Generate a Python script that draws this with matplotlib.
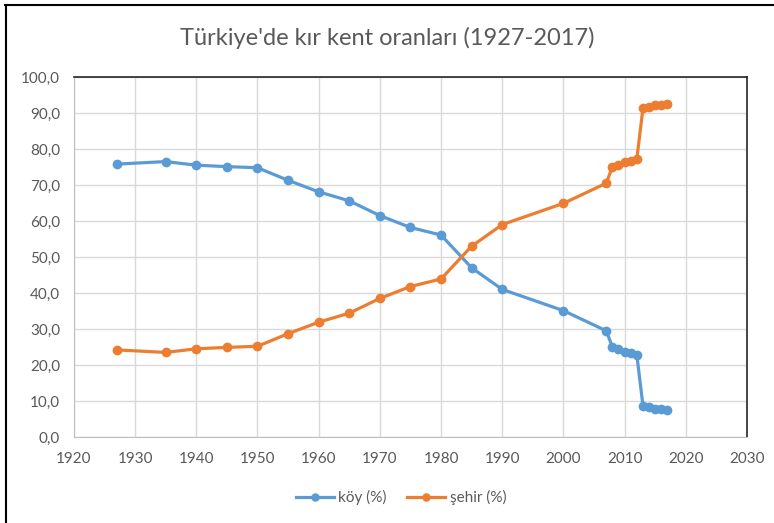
import matplotlib.pyplot as plt
from matplotlib.lines import Line2D
from matplotlib.ticker import FuncFormatter, MultipleLocator

years = [1927, 1935, 1940, 1945, 1950, 1955, 1960, 1965, 1970, 1975, 1980,
         1985, 1990, 2000, 2007, 2008, 2009, 2010, 2011, 2012, 2013, 2014,
         2015, 2016, 2017]
koy = [75.8, 76.5, 75.5, 75.1, 74.8, 71.3, 68.1, 65.6, 61.5, 58.2, 56.1,
       47.0, 41.0, 35.1, 29.5, 25.0, 24.5, 23.7, 23.2, 22.7, 8.7, 8.2,
       7.9, 7.9, 7.5]
sehir = [24.2, 23.5, 24.5, 24.9, 25.2, 28.7, 31.9, 34.4, 38.5, 41.8, 43.9,
         53.0, 59.0, 64.9, 70.5, 75.0, 75.5, 76.3, 76.8, 77.3, 91.3, 91.8,
         92.1, 92.3, 92.5]

title = "Türkiye'de kır kent oranları (1927-2017)"
labels = ["köy (%)", "şehir (%)"]

blue = "#5B9BD5"
orange = "#ED7D31"
text_gray = "#595959"
grid_gray = "#D9D9D9"

plt.rcParams["font.family"] = ["Lato", "DejaVu Sans"]

fig = plt.figure(figsize=(7.74, 5.23), dpi=100)
ax = fig.add_axes([0.0955, 0.1644, 0.8696, 0.6884])

ax.plot(years, koy, color=blue, lw=2.3, marker="o", ms=6, label=labels[0])
ax.plot(years, sehir, color=orange, lw=2.3, marker="o", ms=6, label=labels[1])

ax.set_xlim(1920, 2030)
ax.set_ylim(0, 100)
ax.xaxis.set_major_locator(MultipleLocator(10))
ax.yaxis.set_major_locator(MultipleLocator(10))
ax.yaxis.set_major_formatter(FuncFormatter(lambda v, p: f"{v:.1f}".replace(".", ",")))
ax.grid(True, color=grid_gray, lw=1)
ax.set_axisbelow(True)
ax.tick_params(length=0, labelsize=11, colors=text_gray)
ax.tick_params(axis="y", pad=10)
ax.tick_params(axis="x", pad=11)

ax.spines["left"].set_color("#BFBFBF")
ax.spines["bottom"].set_color("#BFBFBF")
ax.spines["top"].set_color("#262626")
ax.spines["right"].set_color("#262626")
ax.spines["top"].set_linewidth(1.2)
ax.spines["right"].set_linewidth(1.2)

fig.text(0.5, 0.927, title, ha="center", va="center", fontsize=17, color=text_gray)

fig.legend(loc="center", bbox_to_anchor=(0.518, 0.049), ncol=2, frameon=False,
           fontsize=11, labelcolor=text_gray, handlelength=2.5, columnspacing=1.3,
           handletextpad=0.3, markerscale=0.85)

# document frame around the chart
fig.add_artist(Line2D([0.007, 1.0], [0.99, 0.99], color="black", lw=1.5))
fig.add_artist(Line2D([0.008, 0.008], [0.0, 0.99], color="black", lw=1.5))

fig.savefig("out.png", dpi=100)
